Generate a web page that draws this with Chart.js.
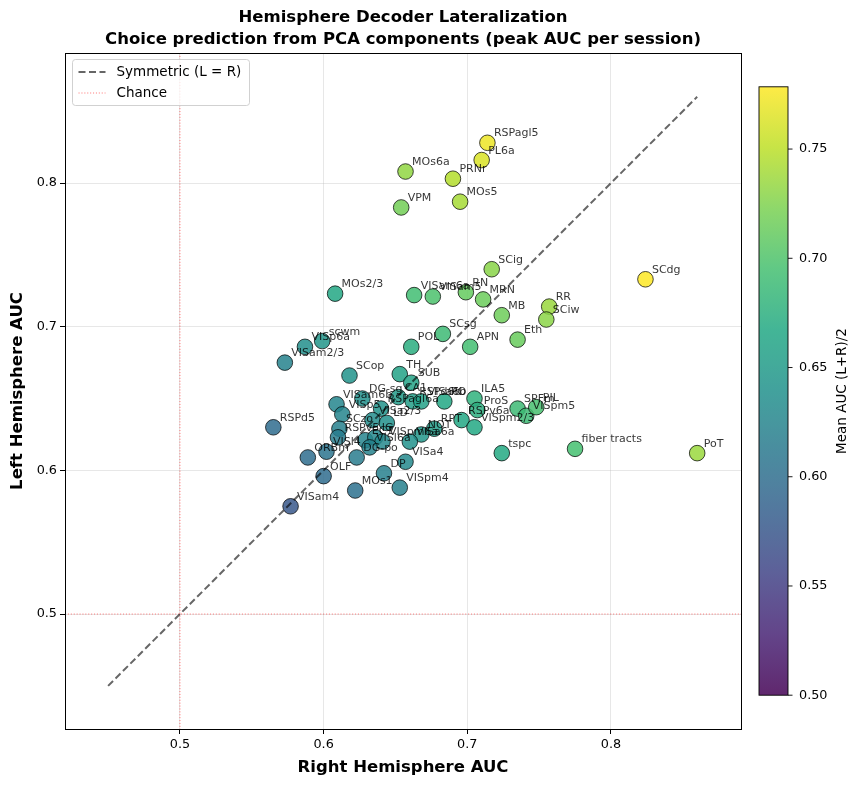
<!DOCTYPE html>
<html>
<head>
<meta charset="utf-8">
<title>Hemisphere Decoder Lateralization</title>
<script src="https://cdn.jsdelivr.net/npm/chart.js@4.4.0/dist/chart.umd.min.js"></script>
<style>
  html, body { margin: 0; padding: 0; background: #fff; }
  #wrap { width: 858px; height: 786px; }
</style>
</head>
<body>
<div id="wrap"><canvas id="chart" width="858" height="786"></canvas></div>
<script>
// region names and peak AUC per hemisphere
const REGIONS = [
  'RSPagl5', 'PL6a', 'MOs6a', 'PRNr', 'MOs5', 'VPM', 'SCig', 'SCdg',
  'MOs2/3', 'VISam6a', 'VISam5', 'RN', 'MRN', 'RR', 'SCiw', 'MB',
  'SCsg', 'Eth', 'POL', 'APN', 'scwm', 'VISp6a', 'VISam2/3', 'SCop',
  'TH', 'SUB', 'CA1', 'DG-sg', 'VISam6b', 'VISp5', 'RSPagl6a', 'RSPd6b',
  'VISa6b', 'PO', 'VISa2/3', 'LD', 'ILA5', 'ProS', 'RSPv6a', 'VISpm2/3',
  'RPT', 'NOT', 'VISa6a', 'VISa4', 'SPFm', 'VISpm5', 'PIL', 'tspc',
  'fiber tracts', 'PoT', 'RSPd5', 'SCzo', 'RSPv5', 'ECT', 'IG', 'VISpm6a',
  'VISl6a', 'DG-po', 'VISl4', 'ORBm', 'OLF', 'DP', 'VISpm4', 'MOs1', 'VISam4'
];
const RIGHT_AUC = [
  0.714, 0.710, 0.657, 0.690, 0.695, 0.654, 0.717, 0.824,
  0.608, 0.663, 0.676, 0.699, 0.711, 0.757, 0.755, 0.724,
  0.683, 0.735, 0.661, 0.702, 0.599, 0.587, 0.573, 0.618,
  0.653, 0.661, 0.652, 0.627, 0.609, 0.613, 0.640, 0.662,
  0.668, 0.684, 0.634, 0.644, 0.705, 0.707, 0.696, 0.705,
  0.677, 0.668, 0.660, 0.657, 0.735, 0.741, 0.748, 0.724,
  0.775, 0.860, 0.565, 0.611, 0.610, 0.629, 0.636, 0.641,
  0.632, 0.623, 0.602, 0.589, 0.600, 0.642, 0.653, 0.622, 0.577
];
const LEFT_AUC = [
  0.828, 0.816, 0.808, 0.803, 0.787, 0.783, 0.740, 0.733,
  0.723, 0.722, 0.721, 0.724, 0.719, 0.714, 0.705, 0.708,
  0.695, 0.691, 0.686, 0.686, 0.690, 0.686, 0.675, 0.666,
  0.667, 0.661, 0.651, 0.650, 0.646, 0.639, 0.643, 0.648,
  0.648, 0.648, 0.635, 0.633, 0.650, 0.642, 0.635, 0.630,
  0.629, 0.625, 0.620, 0.606, 0.643, 0.638, 0.644, 0.612,
  0.615, 0.612, 0.630, 0.629, 0.623, 0.621, 0.623, 0.620,
  0.616, 0.609, 0.613, 0.609, 0.596, 0.598, 0.588, 0.586, 0.575
];
const AXIS_TICKS = [0.5, 0.6, 0.7, 0.8];
const CBAR_TICKS = [0.50, 0.55, 0.60, 0.65, 0.70, 0.75];
const AXIS_RANGE = [0.42, 0.8905];
const DIAG_RANGE = [0.45, 0.86];
const CHANCE = 0.5;
const CBAR_MIN = 0.5;

const FONT = "'DejaVu Sans', 'Noto Sans', sans-serif";
const ALPHA = 0.85;

// viridis stops
const VIRIDIS = ['#440154', '#482475', '#414487', '#355f8d', '#2a788e', '#21918c',
                 '#22a884', '#44bf70', '#7ad151', '#bddf26', '#fde725'];

function hexRgb(h) {
    return [1, 3, 5].map(i => parseInt(h.slice(i, i + 2), 16));
}

function viridis(t, alpha) {
    t = Math.min(1, Math.max(0, t));
    const p = t * (VIRIDIS.length - 1);
    const i = Math.min(Math.floor(p), VIRIDIS.length - 2);
    const f = p - i;
    const a = hexRgb(VIRIDIS[i]), b = hexRgb(VIRIDIS[i + 1]);
    const c = a.map((v, k) => Math.round(v + (b[k] - v) * f));
    return `rgba(${c[0]},${c[1]},${c[2]},${alpha})`;
}

const meanAuc = REGIONS.map((_, i) => (RIGHT_AUC[i] + LEFT_AUC[i]) / 2);
const CBAR_MAX = Math.max(...meanAuc);
const norm = v => (v - CBAR_MIN) / (CBAR_MAX - CBAR_MIN);
const pointColors = meanAuc.map(m => viridis(norm(m), ALPHA));

const decorPlugin = {
    id: 'decor',
    beforeDatasetsDraw(chart) {
        const { ctx, chartArea: a, scales: { x, y } } = chart;
        ctx.save();
        ctx.strokeStyle = 'rgba(255,0,0,0.5)';
        ctx.lineWidth = 1;
        ctx.setLineDash([1.1, 1.8]);
        const cx = x.getPixelForValue(CHANCE);
        const cy = y.getPixelForValue(CHANCE);
        ctx.beginPath();
        ctx.moveTo(cx, a.top); ctx.lineTo(cx, a.bottom);
        ctx.moveTo(a.left, cy); ctx.lineTo(a.right, cy);
        ctx.stroke();
        ctx.restore();
    },
    afterDatasetsDraw(chart) {
        const { ctx, chartArea: a } = chart;
        const meta = chart.getDatasetMeta(1);
        ctx.save();
        ctx.font = `11px ${FONT}`;
        ctx.fillStyle = 'rgba(0,0,0,0.8)';
        ctx.textAlign = 'left';
        ctx.textBaseline = 'alphabetic';
        meta.data.forEach((pt, i) => {
            ctx.fillText(REGIONS[i], pt.x + 6.5, pt.y - 6.5);
        });
        // axes frame
        ctx.strokeStyle = '#000';
        ctx.lineWidth = 1;
        ctx.strokeRect(Math.round(a.left) + 0.5, Math.round(a.top) + 0.5,
                       Math.round(a.right - a.left), Math.round(a.bottom - a.top));
        ctx.restore();
    },
    afterDraw(chart) {
        const { ctx, chartArea: a } = chart;
        ctx.save();

        // title
        ctx.fillStyle = '#000';
        ctx.font = `bold 16.5px ${FONT}`;
        ctx.textAlign = 'center';
        ctx.textBaseline = 'middle';
        const mid = (a.left + a.right) / 2;
        ctx.fillText('Hemisphere Decoder Lateralization', mid, 18);
        ctx.fillText('Choice prediction from PCA components (peak AUC per session)', mid, 39.5);

        // legend
        const lx = a.left + 7.5, ly = a.top + 6.5, lw = 177, lh = 46;
        ctx.beginPath();
        ctx.roundRect(lx, ly, lw, lh, 3);
        ctx.fillStyle = 'rgba(255,255,255,0.8)';
        ctx.fill();
        ctx.strokeStyle = 'rgba(204,204,204,0.9)';
        ctx.lineWidth = 1;
        ctx.stroke();

        ctx.lineWidth = 2;
        ctx.strokeStyle = 'rgba(0,0,0,0.6)';
        ctx.setLineDash([7, 3.5]);
        ctx.beginPath(); ctx.moveTo(lx + 6, ly + 12.5); ctx.lineTo(lx + 33, ly + 12.5); ctx.stroke();
        ctx.lineWidth = 1;
        ctx.strokeStyle = 'rgba(255,0,0,0.5)';
        ctx.setLineDash([1.1, 1.8]);
        ctx.beginPath(); ctx.moveTo(lx + 6, ly + 33.5); ctx.lineTo(lx + 33, ly + 33.5); ctx.stroke();
        ctx.setLineDash([]);
        ctx.fillStyle = '#000';
        ctx.font = `13.5px ${FONT}`;
        ctx.textAlign = 'left';
        ctx.fillText('Symmetric (L = R)', lx + 44, ly + 12.5);
        ctx.fillText('Chance', lx + 44, ly + 33.5);

        // colorbar
        const h = a.bottom - a.top;
        const bx = a.right + 18, bw = 29;
        const btop = a.top + h * 0.05, bbot = a.bottom - h * 0.05;
        const grad = ctx.createLinearGradient(0, bbot, 0, btop);
        for (let k = 0; k <= 20; k++) grad.addColorStop(k / 20, viridis(k / 20, ALPHA));
        ctx.fillStyle = grad;
        ctx.fillRect(bx, btop, bw, bbot - btop);
        ctx.strokeStyle = '#000';
        ctx.lineWidth = 0.9;
        ctx.strokeRect(bx, btop, bw, bbot - btop);
        ctx.font = `12.8px ${FONT}`;
        ctx.fillStyle = '#000';
        ctx.textBaseline = 'middle';
        CBAR_TICKS.forEach(v => {
            const ty = bbot - norm(v) * (bbot - btop);
            ctx.beginPath();
            ctx.moveTo(bx + bw, ty); ctx.lineTo(bx + bw + 4.5, ty);
            ctx.stroke();
            ctx.fillText(v.toFixed(2), bx + bw + 11, ty);
        });
        ctx.translate(bx + bw + 54, (btop + bbot) / 2);
        ctx.rotate(-Math.PI / 2);
        ctx.textAlign = 'center';
        ctx.font = `13.5px ${FONT}`;
        ctx.fillText('Mean AUC (L+R)/2', 0, 0);
        ctx.restore();
    }
};

function axisOptions(title, isX) {
    return {
        type: 'linear',
        min: AXIS_RANGE[0],
        max: AXIS_RANGE[1],
        afterBuildTicks: s => { s.ticks = AXIS_TICKS.map(v => ({ value: v })); },
        afterFit: s => { if (isX) s.height = 57; else s.width = 65; },
        ticks: {
            color: '#000',
            padding: 3,
            font: { family: FONT, size: 12.8 },
            callback: v => String(+v.toFixed(2))
        },
        grid: {
            color: 'rgba(176,176,176,0.3)',
            lineWidth: 1,
            drawTicks: true,
            tickLength: 5,
            tickColor: '#000',
            tickWidth: 1
        },
        border: { display: false },
        title: {
            display: true,
            text: title,
            color: '#000',
            font: { family: FONT, size: 16.5, weight: 'bold' },
            padding: isX ? { top: 0, bottom: 8 } : { top: 8, bottom: 0 }
        }
    };
}

const ctx = document.getElementById('chart').getContext('2d');
new Chart(ctx, {
    type: 'scatter',
    data: {
        datasets: [
            {
                type: 'line',
                label: 'Symmetric (L = R)',
                data: DIAG_RANGE.map(v => ({ x: v, y: v })),
                borderColor: 'rgba(0,0,0,0.6)',
                borderWidth: 2,
                borderDash: [7, 3.5],
                pointRadius: 0,
                fill: false
            },
            {
                label: 'Regions',
                data: REGIONS.map((_, i) => ({ x: RIGHT_AUC[i], y: LEFT_AUC[i] })),
                backgroundColor: pointColors,
                borderColor: 'rgba(0,0,0,0.8)',
                borderWidth: 0.9,
                pointRadius: 7.8,
                pointHoverRadius: 7.8
            }
        ]
    },
    options: {
        responsive: false,
        animation: false,
        layout: { padding: { top: 53, right: 117, left: 0, bottom: 0 } },
        plugins: {
            legend: { display: false },
            tooltip: { enabled: false },
            title: { display: false }
        },
        scales: {
            x: axisOptions('Right Hemisphere AUC', true),
            y: axisOptions('Left Hemisphere AUC', false)
        }
    },
    plugins: [decorPlugin]
});
</script>
</body>
</html>
